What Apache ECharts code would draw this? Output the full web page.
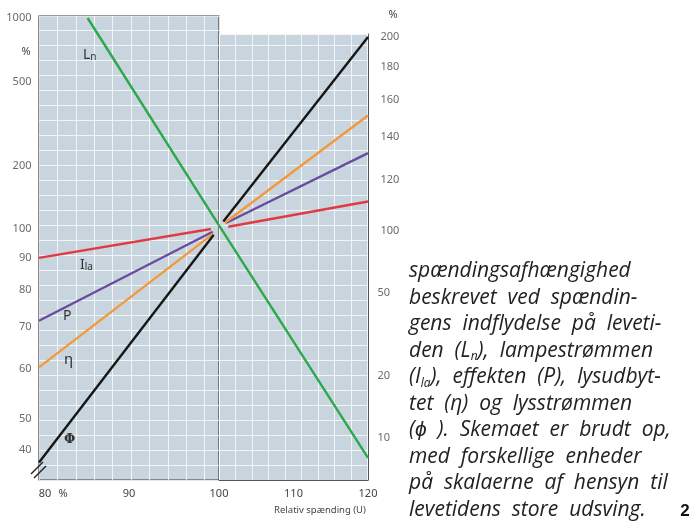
<!DOCTYPE html>
<html><head><meta charset="utf-8">
<script src="https://cdn.jsdelivr.net/npm/echarts@6/dist/echarts.min.js"></script>
<style>html,body{margin:0;padding:0;background:#fff}#c{width:692px;height:522px}</style>
</head><body><div id="c"></div>
<script>
// ---- data (relative voltage U in %, values in %) ----
const lnLeftU = [85.4, 100];     const lnLeft = [1000, 104];
const lnRightU = [100, 120];     const lnRight = [106, 8];
const ilaLeftU = [80, 99.1];     const ilaLeft = [90, 100];
const pLeftU = [80, 99.3];       const pLeft = [71.5, 99];
const etaLeftU = [80, 99.4];     const etaLeft = [60.3, 98.4];
const phiLeftU = [80, 99.4];     const phiLeft = [42.6, 97.8];
const ilaRightU = [101.25, 120]; const ilaRight = [101.4, 111];
const pRightU = [100.94, 120];   const pRight = [102.8, 132];
const etaRightU = [100.8, 120];  const etaRight = [102.9, 151];
const phiRightU = [100.58, 120]; const phiRight = [103.3, 200];

// ---- tick labels ----
const leftLnTicks = [1000, 500, 200, 100];
const leftTicks = [90, 80, 70, 60, 50, 40];
const rightTicks = [200, 180, 160, 140, 120, 100];
const rightLnTicks = [50, 20, 10];
const leftUTicks = [80, 90, 100];
const rightUTicks = [110, 120];

const captionLines = [
  'spændingsafhængighed',
  'beskrevet ved spændin-',
  'gens indflydelse på leveti-',
  'den (L{s|n}), lampestrømmen',
  '(I{s|la}), effekten (P), lysudbyt-',
  'tet (η) og lysstrømmen',
  '(ϕ ). Skemaet er brudt op,',
  'med forskellige enheder',
  'på skalaerne af hensyn til',
  'levetidens store udsving.'
];

const pairs = (xs, ys) => xs.map((x, i) => [x, ys[i]]);
const FONT = '"Noto Sans", "Open Sans", sans-serif';
const C = {green:'#2aa84a', red:'#e23a40', purple:'#6a4c9e', orange:'#f29a3a', black:'#161616'};

const hiddenAxis = (extra) => Object.assign({
  axisLabel:{show:false}, axisTick:{show:false}, axisLine:{show:false}, splitLine:{show:false}
}, extra);
const gridLineAxis = (extra) => Object.assign({
  type:'value', axisLabel:{show:false}, axisTick:{show:false}, axisLine:{show:false},
  splitLine:{show:true, lineStyle:{color:'rgba(255,255,255,0.75)', width:1}}
}, extra);

const lineSeries = (xi, yi, xs, ys, color) => ({
  type:'line', xAxisIndex:xi, yAxisIndex:yi, data:pairs(xs, ys), showSymbol:false,
  symbol:'none', lineStyle:{color, width:2.4}, clip:true, silent:true, z:5
});

const labelSeries = (xi, yi, x, ticks, pos, dist, shiftFor) => ({
  type:'scatter', xAxisIndex:xi, yAxisIndex:yi, symbolSize:1, clip:false, silent:true,
  itemStyle:{color:'transparent'},
  data: ticks.map(v => shiftFor && v === shiftFor.value
      ? {value:[x, v], label:{offset:shiftFor.offset}} : [x, v]),
  label:{show:true, position:pos, distance:dist, formatter:p => String(p.value[1]),
         color:'#444', fontSize:11, fontFamily:FONT}
});

const option = {
  animation:false,
  grid:[
    {left:39, top:16, width:180, height:464, show:true, backgroundColor:'#c9d5de', borderColor:'#3c3c3c', borderWidth:1.2},
    {left:219, top:34, width:149, height:446, show:true, backgroundColor:'#c9d5de', borderWidth:0}
  ],
  xAxis:[
    {type:'value', gridIndex:0, min:80, max:100, interval:10, position:'bottom',
     axisLine:{show:false}, axisTick:{show:false}, splitLine:{show:false},
     axisLabel:{color:'#444', fontSize:11, fontFamily:FONT, margin:8,
       formatter:v => leftUTicks.includes(v) ? (v === 80 ? '{a|80}' : String(v)) : '',
       rich:{a:{padding:[0,0,0,12], fontSize:11, fontFamily:FONT, color:'#444'}}}},
    {type:'value', gridIndex:1, min:100, max:120, interval:10, position:'bottom',
     axisLine:{show:true, lineStyle:{color:'#555', width:1}}, axisTick:{show:false}, splitLine:{show:false},
     axisLabel:{color:'#444', fontSize:11, fontFamily:FONT, margin:8,
       formatter:v => rightUTicks.includes(v) ? String(v) : ''}},
    gridLineAxis({gridIndex:0, min:0, max:180, interval:18.4}),
    gridLineAxis({gridIndex:1, min:0, max:149, interval:16.5})
  ],
  yAxis:[
    hiddenAxis({type:'log', gridIndex:0, min:6.46, max:1022}),
    hiddenAxis({type:'log', gridIndex:0, min:39.96, max:217.8}),
    gridLineAxis({gridIndex:0, min:0, max:464, interval:15}),
    hiddenAxis({type:'log', gridIndex:1, min:6.25, max:891, position:'right'}),
    hiddenAxis({type:'log', gridIndex:1, min:40.96, max:202.2, position:'right',
      axisLine:{show:true, onZero:false, lineStyle:{color:'#555', width:1}}}),
    gridLineAxis({gridIndex:1, min:0, max:446, interval:15})
  ],
  series:[
    lineSeries(0, 0, lnLeftU, lnLeft, C.green),
    lineSeries(0, 1, ilaLeftU, ilaLeft, C.red),
    lineSeries(0, 1, pLeftU, pLeft, C.purple),
    lineSeries(0, 1, etaLeftU, etaLeft, C.orange),
    lineSeries(0, 1, phiLeftU, phiLeft, C.black),
    lineSeries(1, 3, lnRightU, lnRight, C.green),
    lineSeries(1, 4, ilaRightU, ilaRight, C.red),
    lineSeries(1, 4, pRightU, pRight, C.purple),
    lineSeries(1, 4, etaRightU, etaRight, C.orange),
    lineSeries(1, 4, phiRightU, phiRight, C.black),
    labelSeries(0, 0, 80, leftLnTicks, 'left', 7),
    labelSeries(0, 1, 80, leftTicks, 'left', 7, {value:40, offset:[0,-30]}),
    labelSeries(1, 4, 120, rightTicks, 'right', 12),
    labelSeries(1, 3, 120, rightLnTicks, 'right', 9)
  ],
  graphic:[
    // unit marks
    {type:'text', x:26, y:52, style:{text:'%', font:'11px ' + FONT, fill:'#444', textAlign:'center', textVerticalAlign:'middle'}},
    {type:'text', x:393, y:15, style:{text:'%', font:'11px ' + FONT, fill:'#444', textAlign:'center', textVerticalAlign:'middle'}},
    {type:'text', x:63, y:494, style:{text:'%', font:'11px ' + FONT, fill:'#444', textAlign:'center', textVerticalAlign:'middle'}},
    {type:'text', x:320, y:510, style:{text:'Relativ spænding (U)', font:'9.5px ' + FONT, fill:'#444', textAlign:'center', textVerticalAlign:'middle'}},
    // axis break marks
    {type:'line', z:20, shape:{x1:31, y1:474, x2:43, y2:462}, style:{stroke:'#222', lineWidth:1.4}},
    {type:'line', z:20, shape:{x1:34, y1:478, x2:46, y2:466}, style:{stroke:'#222', lineWidth:1.4}},
    // curve names
    {type:'text', z:20, x:83, y:55, style:{text:'L{s|n}', font:'14px ' + FONT, fill:'#333', textAlign:'left', textVerticalAlign:'middle',
       rich:{s:{fontSize:10, fontFamily:FONT, fill:'#333', verticalAlign:'bottom', lineHeight:10}}}},
    {type:'text', z:20, x:80, y:265, style:{text:'I{s|la}', font:'14px ' + FONT, fill:'#333', textAlign:'left', textVerticalAlign:'middle',
       rich:{s:{fontSize:10, fontFamily:FONT, fill:'#333', verticalAlign:'bottom', lineHeight:10}}}},
    {type:'text', z:20, x:63, y:316, style:{text:'P', font:'14px ' + FONT, fill:'#333', textAlign:'left', textVerticalAlign:'middle'}},
    {type:'text', z:20, x:64, y:360, style:{text:'η', font:'15px ' + FONT, fill:'#333', textAlign:'left', textVerticalAlign:'middle'}},
    {type:'text', z:20, x:64, y:440, style:{text:'Φ', font:'bold 13px "DejaVu Serif", serif', fill:'#333', textAlign:'left', textVerticalAlign:'middle'}},
    // page number
    {type:'text', x:685, y:511, style:{text:'2', font:'bold 17px "Liberation Sans", Arial, sans-serif', fill:'#111', textAlign:'center', textVerticalAlign:'middle'}}
  ].concat(captionLines.map((t, i) => ({
    type:'text', x:409, y:271.5 + i * 26.5,
    style:{text:t.replace(/ /g, '  '), font:'italic 21px "Open Sans", sans-serif', fill:'#222', textAlign:'left', textVerticalAlign:'middle',
      lineHeight:24,
      rich:{s:{fontSize:12, fontStyle:'italic', fontFamily:'"Open Sans", sans-serif', fill:'#222', verticalAlign:'bottom', lineHeight:12}}}
  })))
};

const chart = echarts.init(document.getElementById('c'), null, {renderer:'canvas'});
chart.setOption(option);
</script>
</body></html>
